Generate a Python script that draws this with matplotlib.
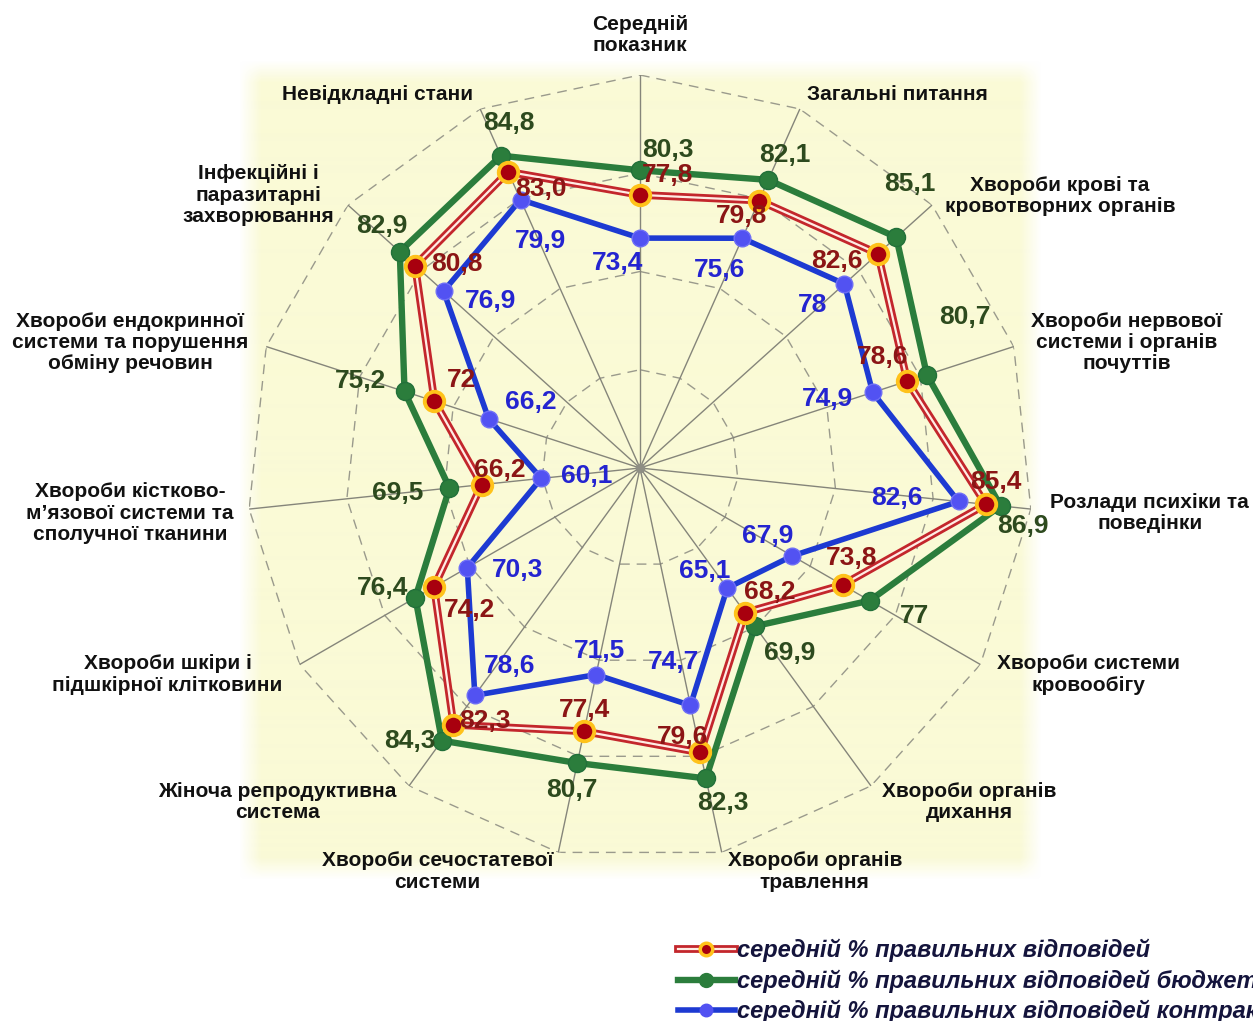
import numpy as np
import matplotlib
matplotlib.use("Agg")
import matplotlib.pyplot as plt
from matplotlib.lines import Line2D
from matplotlib.legend_handler import HandlerTuple

# ---------------- data ----------------
categories = [
    "Середній\nпоказник",
    "Загальні питання",
    "Хвороби крові та\nкровотворних органів",
    "Хвороби нервової\nсистеми і органів\nпочуттів",
    "Розлади психіки та\nповедінки",
    "Хвороби системи\nкровообігу",
    "Хвороби органів\nдихання",
    "Хвороби органів\nтравлення",
    "Хвороби сечостатевої\nсистеми",
    "Жіноча репродуктивна\nсистема",
    "Хвороби шкіри і\nпідшкірної клітковини",
    "Хвороби кістково-\nм’язової системи та\nсполучної тканини",
    "Хвороби ендокринної\nсистеми та порушення\nобміну речовин",
    "Інфекційні і\nпаразитарні\nзахворювання",
    "Невідкладні стани",
]
overall = [77.8, 79.8, 82.6, 78.6, 85.4, 73.8, 68.2, 79.6, 77.4, 82.3, 74.2, 66.2, 72.0, 80.8, 83.0]
overall_text = ["77,8", "79,8", "82,6", "78,6", "85,4", "73,8", "68,2", "79,6", "77,4", "82,3",
                "74,2", "66,2", "72", "80,8", "83,0"]
budget = [80.3, 82.1, 85.1, 80.7, 86.9, 77.0, 69.9, 82.3, 80.7, 84.3, 76.4, 69.5, 75.2, 82.9, 84.8]
contract = [73.4, 75.6, 78.0, 74.9, 82.6, 67.9, 65.1, 74.7, 71.5, 78.6, 70.3, 60.1, 66.2, 76.9, 79.9]
series_names = [
    "середній % правильних відповідей",
    "середній % правильних відповідей бюджетної форми навчання",
    "середній % правильних відповідей контрактної форми навчання",
]
r_min, r_max = 50, 90
rings = [60, 70, 80, 90]


def fmt(v):
    s = f"{v:g}"
    return s.replace(".", ",")


# ---------------- style (offsets in pixels) ----------------
off_budget = [(28, 20), (17, 25), (14, 53), (38, 58), (22, -20), (45, -15), (35, -27), (17, -25),
              (-5, -27), (-32, 0), (-33, 10), (-52, -5), (-44, 10), (-18, 26), (8, 33)]
off_overall = [(28, 20), (-18, -15), (-41, -7), (-25, 24), (10, 22), (9, 27), (25, 21), (-18, 15),
               (0, 21), (31, 4), (35, -23), (18, 15), (27, 21), (42, 2), (33, -17)]
off_contract = [(-22, -25), (-23, -32), (-32, -21), (-45, -7), (-62, 3), (-25, 20), (-23, 17),
                (-17, 43), (3, 24), (35, 29), (50, -2), (45, 2), (42, 17), (47, -10), (20, -41)]
off_cat = [(0, 40), (98, 14), (128, 9), (113, 4), (119, -4), (108, -10), (98, -16), (93, -19),
           (-121, -19), (-132, -16), (-132, -10), (-119, -4), (-136, 4), (-90, 10), (-103, 14)]

W, H = 1253, 1021
fig = plt.figure(figsize=(W / 100, H / 100), dpi=100)
fig.patch.set_facecolor("white")

# soft light-yellow background panel
bg = fig.add_axes([0, 0, 1, 1], zorder=-5)
yy, xx = np.mgrid[0:H, 0:W]
x0, x1, y0, y1, soft = 250, 1030, 72, 868, 22.0
ax_ = np.clip(np.minimum(xx - x0, x1 - xx) / soft + 0.5, 0, 1)
ay_ = np.clip(np.minimum(yy - y0, y1 - yy) / soft + 0.5, 0, 1)
alpha = ax_ * ay_
img = np.ones((H, W, 4))
img[..., 0] = 250 / 255
img[..., 1] = 250 / 255
img[..., 2] = 214 / 255
img[..., 3] = alpha
bg.imshow(img, extent=(0, W, H, 0), aspect="auto", interpolation="bilinear")
bg.set_xlim(0, W)
bg.set_ylim(H, 0)
bg.axis("off")

# polar axes
cx, cy, R = 640, 468, 393
ax = fig.add_axes([(cx - R) / W, (H - cy - R) / H, 2 * R / W, 2 * R / H], projection="polar")
ax.patch.set_alpha(0)
ax.set_theta_zero_location("N")
ax.set_theta_direction(-1)
ax.set_ylim(r_min, r_max)
ax.set_xticks([])
ax.set_yticks([])
ax.grid(False)
ax.spines["polar"].set_visible(False)

n = len(categories)
theta = np.arange(n) * 2 * np.pi / n
theta_c = np.append(theta, theta[0])

# grid rings (polygons) and spokes
for r in rings:
    ax.plot(theta_c, [r] * (n + 1), color="#9a9a8c", lw=1.0, ls=(0, (7, 5)), zorder=1)
for t in theta:
    ax.plot([t, t], [r_min, r_max], color="#85857a", lw=1.0, zorder=1)
ax.plot([0], [r_min], "o", color="#8e8e84", ms=6, zorder=1)


def closed(v):
    return list(v) + [v[0]]


GREEN = "#2B7D3C"
ax.plot(theta_c, closed(budget), color=GREEN, lw=4.6, zorder=3)
ax.plot(theta, budget, "o", color=GREEN, ms=13, mec="#22703A", zorder=3.1)

ax.plot(theta_c, closed(overall), color="#C3262C", lw=5.6, zorder=4)
ax.plot(theta_c, closed(overall), color="#FFECE4", lw=1.6, zorder=4.05)
ax.plot(theta, overall, "o", color="#A8000E", ms=14, mec="#FFC21A", mew=2.8, zorder=4.1)

BLUE = "#1D3AD2"
ax.plot(theta_c, closed(contract), color=BLUE, lw=4.0, zorder=5)
ax.plot(theta, contract, "o", color="#5252F2", ms=12, mec="#6E6EF6", mew=1.0, zorder=5.1)

lab_font = dict(fontsize=19, fontweight="bold", family=["Liberation Sans", "DejaVu Sans"],
                ha="center", va="center", zorder=7)
for t, v, o in zip(theta, budget, off_budget):
    ax.annotate(fmt(v), xy=(t, v), xytext=o, textcoords="offset pixels", color="#2D4A1E", **lab_font)
for t, v, s, o in zip(theta, overall, overall_text, off_overall):
    ax.annotate(s, xy=(t, v), xytext=o, textcoords="offset pixels", color="#8B1515", **lab_font)
for t, v, o in zip(theta, contract, off_contract):
    ax.annotate(fmt(v), xy=(t, v), xytext=o, textcoords="offset pixels", color="#2424D0", **lab_font)

# category labels
for t, c, o in zip(theta, categories, off_cat):
    ax.annotate(c, xy=(t, r_max), xytext=o, textcoords="offset pixels", ha="center", va="center",
                fontsize=15, fontweight="bold", family=["Liberation Sans", "DejaVu Sans"],
                color="#111111", linespacing=1.15, annotation_clip=False, zorder=7)

# legend
h_red = (Line2D([], [], color="#C3262C", lw=5.6),
         Line2D([], [], color="#FFECE4", lw=1.6),
         Line2D([], [], ls="none", marker="o", color="#A8000E", ms=9, mec="#FFC21A", mew=2.5))
h_green = (Line2D([], [], color=GREEN, lw=4.6),
           Line2D([], [], ls="none", marker="o", color=GREEN, ms=10))
h_blue = (Line2D([], [], color=BLUE, lw=4.0),
          Line2D([], [], ls="none", marker="o", color="#5252F2", ms=9))
leg = fig.legend([h_red, h_green, h_blue], series_names,
                 handler_map={tuple: HandlerTuple(ndivide=1, pad=0)},
                 loc="upper left", bbox_to_anchor=(678 / W, 1 - 939 / H),
                 frameon=False, borderpad=0, borderaxespad=0, handlelength=2.4,
                 handletextpad=0.1, labelspacing=0.3,
                 prop=dict(family=["Liberation Sans", "DejaVu Sans"], style="italic",
                           weight="bold", size=17))
for tx in leg.get_texts():
    tx.set_color("#14143C")

fig.savefig("out.png", dpi=100)
